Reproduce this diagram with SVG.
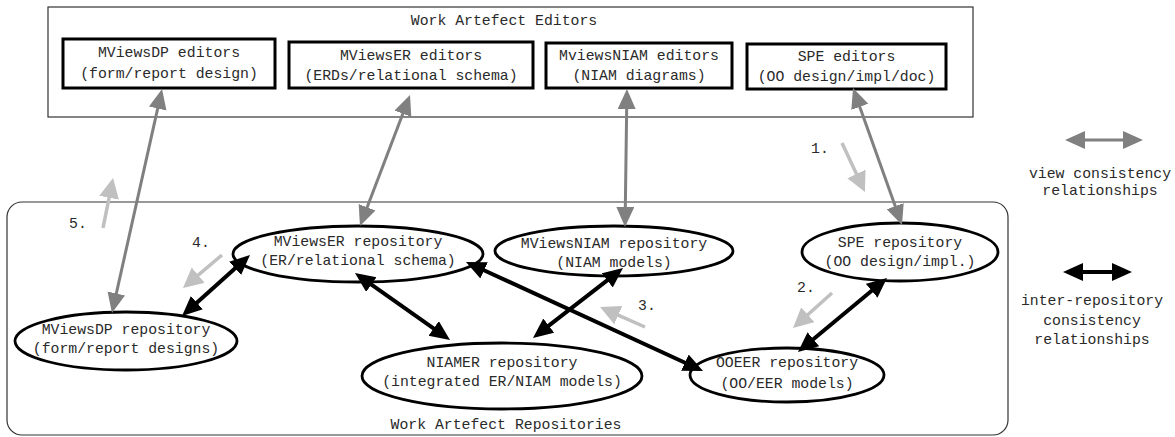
<svg xmlns="http://www.w3.org/2000/svg" width="1175" height="437" viewBox="0 0 1175 437">
<style>
text{font-family:"Liberation Mono","Courier New",monospace;font-size:14.8px;fill:#2a2a2a;text-anchor:middle}
.frame{fill:none;stroke:#333;stroke-width:1.2}
.ed{fill:#fff;stroke:#000;stroke-width:3}
.repo{fill:#fff;stroke:#000;stroke-width:2.8}
.view{stroke:#808080;stroke-width:3;fill:none;marker-start:url(#gh);marker-end:url(#gh)}
.inter{stroke:#000;stroke-width:4;fill:none;marker-start:url(#bh);marker-end:url(#bh)}
.step{stroke:#c0c0c0;stroke-width:3.5;fill:none;marker-end:url(#lh)}
</style>
<defs>
<marker id="gh" markerUnits="userSpaceOnUse" markerWidth="24" markerHeight="20" refX="2" refY="9" orient="auto-start-reverse"><path d="M0,0 L20,9 L0,18 z" fill="#808080"/></marker>
<marker id="bh" markerUnits="userSpaceOnUse" markerWidth="24" markerHeight="20" refX="2" refY="9" orient="auto-start-reverse"><path d="M0,0 L20,9 L0,18 z" fill="#000"/></marker>
<marker id="lh" markerUnits="userSpaceOnUse" markerWidth="24" markerHeight="22" refX="2" refY="10" orient="auto"><path d="M0,0 L20,10 L0,20 z" fill="#c0c0c0"/></marker>
</defs>

<rect class="frame" x="48" y="7" width="925" height="110"/>
<text x="504" y="25">Work Artefect Editors</text>
<rect class="frame" x="7" y="202" width="1001" height="233" rx="15"/>
<text x="506" y="429">Work Artefect Repositories</text>

<g id="ed-dp"><rect class="ed" x="63" y="39" width="212" height="49"/><text x="169" y="57">MViewsDP editors</text><text x="169" y="78">(form/report design)</text></g>
<g id="ed-er"><rect class="ed" x="289" y="42" width="244" height="46"/><text x="411" y="60">MViewsER editors</text><text x="411" y="80">(ERDs/relational schema)</text></g>
<g id="ed-niam"><rect class="ed" x="546" y="43" width="186" height="45"/><text x="639" y="60">MviewsNIAM editors</text><text x="639" y="80">(NIAM diagrams)</text></g>
<g id="ed-spe"><rect class="ed" x="747" y="44" width="199" height="45"/><text x="846.5" y="61">SPE editors</text><text x="846.5" y="81">(OO design/impl/doc)</text></g>

<g id="repo-dp"><ellipse class="repo" cx="126" cy="341" rx="111" ry="29"/><text x="126" y="334">MViewsDP repository</text><text x="126" y="353">(form/report designs)</text></g>
<g id="repo-er"><ellipse class="repo" cx="358" cy="254" rx="125" ry="28"/><text x="358" y="246">MViewsER repository</text><text x="358" y="265">(ER/relational schema)</text></g>
<g id="repo-niam"><ellipse class="repo" cx="614" cy="251" rx="119" ry="25"/><text x="614" y="248">MViewsNIAM repository</text><text x="614" y="267">(NIAM models)</text></g>
<g id="repo-spe"><ellipse class="repo" cx="900" cy="252" rx="98" ry="29"/><text x="900" y="247">SPE repository</text><text x="900" y="266">(OO design/impl.)</text></g>
<g id="repo-niamer"><ellipse class="repo" cx="502" cy="376" rx="140" ry="33"/><text x="502" y="367">NIAMER repository</text><text x="502" y="386">(integrated ER/NIAM models)</text></g>
<g id="repo-ooeer"><ellipse class="repo" cx="787" cy="375" rx="97" ry="27"/><text x="787" y="367">OOEER repository</text><text x="787" y="388">(OO/EER models)</text></g>

<g id="connectors">
<line class="view" x1="158.1" y1="106.6" x2="115.9" y2="295.4"/>
<line class="view" x1="403.6" y1="111.8" x2="366.4" y2="209.2"/>
<line class="view" x1="626.7" y1="107" x2="625.3" y2="209"/>
<line class="view" x1="859.1" y1="105" x2="895.9" y2="208"/>
<line class="inter" x1="236.6" y1="267" x2="195.4" y2="304"/>
<line class="inter" x1="369.7" y1="283.4" x2="435.3" y2="329.6"/>
<line class="inter" x1="608.8" y1="279.1" x2="547.2" y2="326.9"/>
<line class="inter" x1="482.3" y1="269.5" x2="686.7" y2="363.5"/>
<line class="inter" x1="873.2" y1="289.5" x2="811.8" y2="340.5"/>
<line class="step" x1="842" y1="143" x2="857.3" y2="175.7"/>
<line class="step" x1="832" y1="293" x2="806.4" y2="316"/>
<line class="step" x1="645" y1="327" x2="616.5" y2="314.3"/>
<line class="step" x1="222" y1="255" x2="196.7" y2="276.4"/>
<line class="step" x1="103" y1="228" x2="109.5" y2="195.7"/>
<line class="view" x1="1083" y1="140" x2="1125" y2="140"/>
<line class="inter" x1="1081" y1="272" x2="1114" y2="272"/>
</g>

<text x="820" y="153">1.</text>
<text x="806" y="292">2.</text>
<text x="647" y="310">3.</text>
<text x="201" y="247">4.</text>
<text x="78" y="228">5.</text>

<text x="1100" y="178">view consistency</text>
<text x="1100" y="195">relationships</text>
<text x="1092" y="305">inter-repository</text>
<text x="1092" y="325">consistency</text>
<text x="1092" y="344">relationships</text>
</svg>
